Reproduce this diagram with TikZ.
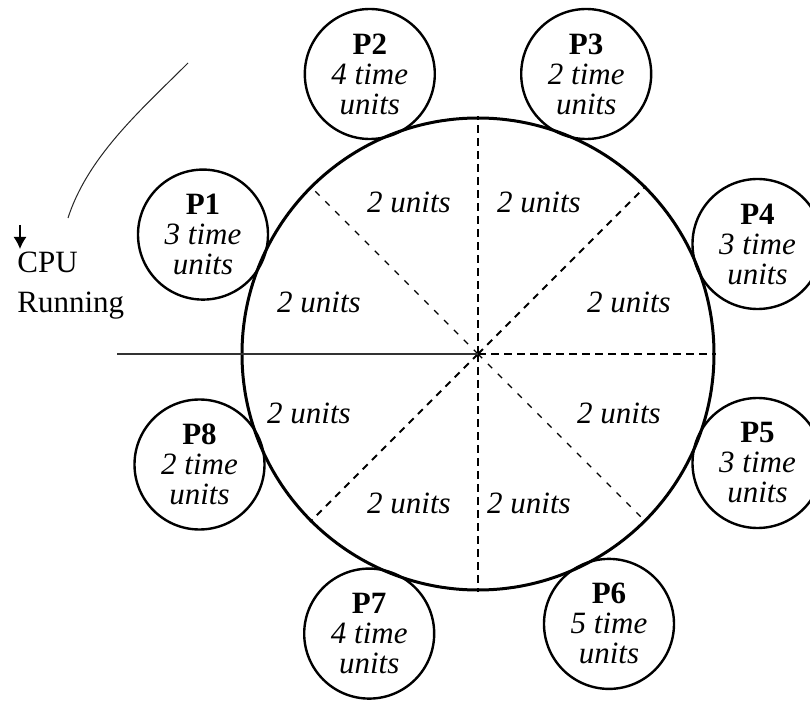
\documentclass[tikz,border=0pt]{standalone}
\usepackage{fontspec}
\setmainfont{Liberation Serif}
\usetikzlibrary{arrows.meta}
\begin{document}
\begin{tikzpicture}[x=0.5pt,y=-0.5pt,
  txt/.style={font=\fontsize{15.5}{15}\selectfont, inner sep=0pt},
  proc/.style={circle, draw, line width=1.2pt, minimum size=65pt, inner sep=0pt,
    align=center, font=\fontsize{15.5}{15}\selectfont},
  bigc/.style={circle, draw, line width=1.5pt, minimum size=236pt, inner sep=0pt},
  unitlbl/.style={txt, anchor=base, font=\fontsize{15.5}{15}\selectfont\itshape},
  straightdash/.style={line width=1pt, dash pattern=on 4pt off 2.5pt},
  thindash/.style={line width=0.7pt, dash pattern=on 3pt off 4pt},
  thickdash/.style={line width=0.9pt, dash pattern=on 3.5pt off 3pt}
]
\clip (0,0) rectangle (810,701);
\fill[white] (0,0) rectangle (810,701);

% process circles
\node[proc] (p1) at (203,234.6) {\textbf{P1}\\\textit{3 time}\\\textit{units}};
\node[proc] (p2) at (369.8,74) {\textbf{P2}\\\textit{4 time}\\\textit{units}};
\node[proc] (p3) at (586.2,74) {\textbf{P3}\\\textit{2 time}\\\textit{units}};
\node[proc] (p4) at (757.5,244) {\textbf{P4}\\\textit{3 time}\\\textit{units}};
\node[proc] (p5) at (757.5,463) {\textbf{P5}\\\textit{3 time}\\\textit{units}};
\node[proc] (p6) at (609,623.9) {\textbf{P6}\\\textit{5 time}\\\textit{units}};
\node[proc] (p7) at (369.2,633.6) {\textbf{P7}\\\textit{4 time}\\\textit{units}};
\node[proc] (p8) at (199.5,464.5) {\textbf{P8}\\\textit{2 time}\\\textit{units}};

% big circle
\node[bigc] (C) at (478,354) {};

% sector lines
\draw[straightdash] (C.center) -- (C.90);
\draw[straightdash] (C.center) -- (C.270);
\draw[straightdash] (C.center) -- (C.0);
\draw[thindash] (C.center) -- (C.135);
\draw[thindash] (C.center) -- (C.-45);
\draw[thickdash] (C.center) -- (C.45);
\draw[thickdash] (C.center) -- (C.225);
\coordinate (hstart) at (117,354);
\draw[line width=1pt, black!80] (hstart) -- (C.center);

% sector labels
\node[unitlbl] (u1) at (409,213) {2 units};
\node[unitlbl] (u2) at (539,213) {2 units};
\node[unitlbl] (u3) at (319,313) {2 units};
\node[unitlbl] (u4) at (629,313) {2 units};
\node[unitlbl] (u5) at (309,423) {2 units};
\node[unitlbl] (u6) at (619,423) {2 units};
\node[unitlbl] (u7) at (409,513) {2 units};
\node[unitlbl] (u8) at (529,513) {2 units};

% rotation arc and arrow
\coordinate (arcS) at (68,218);
\coordinate (arcE) at (188,63);
\draw[line width=0.5pt, black!85] (arcS) .. controls (88,156) and (142,109) .. (arcE);
\coordinate (arrS) at (20,225);
\coordinate (arrE) at (20,249);
\draw[line width=0.6pt, -{Latex[length=6pt,width=6.5pt]}] (arrS) -- (arrE);

% CPU label
\node[txt, anchor=base west] (cpu) at (17,273) {CPU};
\node[txt, anchor=base west] (run) at (17,313) {Running};
\end{tikzpicture}
\end{document}
